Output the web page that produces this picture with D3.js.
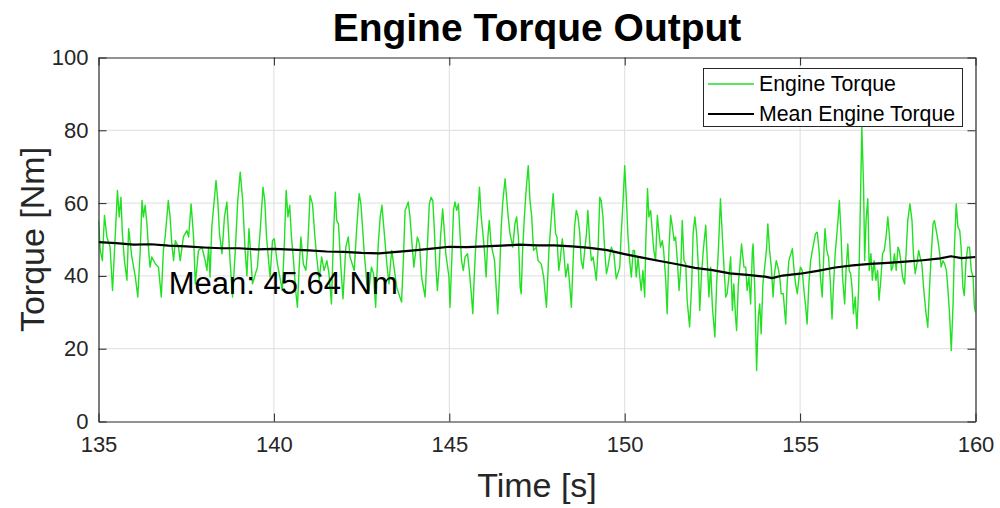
<!DOCTYPE html>
<html>
<head>
<meta charset="utf-8">
<script src="https://cdn.jsdelivr.net/npm/d3@7"></script>
<style>
  html, body { margin: 0; padding: 0; background: #ffffff; }
  svg { display: block; font-family: "Liberation Sans", Arial, Helvetica, sans-serif; }
</style>
</head>
<body>
<svg id="chart" width="1000" height="508"></svg>
<script>
// ---------- data ----------
const timeData = [
  135.00,135.05,135.11,135.17,135.24,135.33,135.40,135.48,135.54,135.59,135.64,135.68,135.74,135.81,135.86,135.95,
  136.05,136.12,136.19,136.24,136.28,136.33,136.38,136.43,136.47,136.52,136.62,136.71,136.79,136.85,136.90,136.99,
  137.04,137.09,137.14,137.19,137.28,137.33,137.42,137.52,137.57,137.64,137.71,137.76,137.85,137.95,
  138.04,138.09,138.14,138.18,138.23,138.35,138.40,138.45,138.52,138.59,138.66,138.75,138.82,138.90,138.97,
  139.04,139.11,139.18,139.23,139.29,139.39,139.53,139.61,139.69,139.74,139.79,139.89,139.96,
  140.01,140.10,140.24,140.29,140.35,140.40,140.45,140.50,140.56,140.62,140.67,140.72,140.77,140.84,140.91,140.96,
  141.03,141.10,141.17,141.22,141.29,141.36,141.43,141.51,141.57,141.64,141.70,141.75,141.79,141.84,141.91,141.97,
  142.05,142.12,142.17,142.29,142.35,142.43,142.48,142.52,142.57,142.65,142.71,142.78,142.84,142.90,142.97,
  143.03,143.08,143.14,143.22,143.28,143.33,143.36,143.50,143.64,143.69,143.74,143.83,143.88,143.93,143.99,
  144.09,144.15,144.21,144.31,144.37,144.43,144.48,144.53,144.57,144.62,144.66,144.71,144.75,144.81,144.85,144.90,144.99,
  145.02,145.07,145.12,145.16,145.21,145.26,145.31,145.35,145.40,145.45,145.52,145.57,145.62,145.67,145.71,145.76,145.81,145.86,145.91,145.95,
  146.00,146.05,146.10,146.14,146.19,146.29,146.33,146.38,146.43,146.48,146.52,146.59,146.64,146.68,146.73,146.81,146.87,146.92,146.97,
  147.02,147.05,147.09,147.14,147.19,147.25,147.30,147.35,147.40,147.48,147.53,147.62,147.69,147.77,147.84,147.91,147.96,
  148.00,148.03,148.07,148.12,148.16,148.22,148.26,148.32,148.38,148.43,148.48,148.53,148.57,148.62,148.67,148.72,148.76,148.81,148.86,148.91,148.95,
  149.00,149.05,149.10,149.14,149.19,149.24,149.29,149.33,149.38,149.43,149.48,149.52,149.57,149.62,149.69,149.76,149.86,149.90,149.95,
  150.00,150.05,150.09,150.14,150.19,150.24,150.28,150.33,150.38,150.43,150.47,150.52,150.57,150.60,150.65,150.69,150.74,150.79,150.83,150.88,150.93,150.98,
  151.02,151.07,151.11,151.17,151.21,151.26,151.31,151.36,151.41,151.45,151.50,151.55,151.60,151.64,151.69,151.74,151.78,151.85,151.91,151.95,
  152.00,152.05,152.10,152.14,152.19,152.24,152.31,152.35,152.40,152.45,152.50,152.57,152.62,152.67,152.73,152.78,152.83,152.88,152.92,152.97,
  153.02,153.07,153.11,153.16,153.19,153.24,153.28,153.33,153.40,153.45,153.49,153.54,153.59,153.64,153.66,153.71,153.76,153.81,153.85,153.89,153.94,
  154.04,154.08,154.13,154.18,154.23,154.27,154.32,154.37,154.42,154.46,154.52,154.59,154.63,154.68,154.78,154.82,154.87,154.92,154.97,
  155.01,155.06,155.11,155.16,155.20,155.25,155.30,155.35,155.44,155.49,155.54,155.58,155.63,155.68,155.71,155.76,155.81,155.86,155.91,155.95,
  156.00,156.08,156.12,156.17,156.21,156.27,156.31,156.36,156.40,156.44,156.48,156.52,156.57,156.62,156.67,156.71,156.76,156.81,156.84,156.88,156.93,156.97,
  157.02,157.06,157.11,157.16,157.21,157.25,157.30,157.35,157.40,157.45,157.50,157.55,157.60,157.64,157.69,157.74,157.79,157.83,157.88,157.92,157.98,
  158.02,158.07,158.13,158.19,158.23,158.28,158.33,158.38,158.42,158.47,158.52,158.59,158.64,158.69,158.74,158.79,158.83,158.88,158.93,158.98,
  159.02,159.07,159.12,159.17,159.21,159.26,159.31,159.36,159.40,159.45,159.50,159.55,159.59,159.64,159.68,159.73,159.78,159.83,159.88,159.93,159.97,160.00
];
const torqueData = [
  55.2,47,44.2,56.6,50.7,47.9,36,51.6,63.5,56.2,61.6,51.6,44.2,38.8,53,45.2,
  39.7,34.2,47,60.7,56.2,59.4,54.3,47,42.4,45.2,43.3,42.4,34.2,47,50.7,60.7,
  56.2,48.8,44.2,49.7,47.9,44.2,50.7,52.5,50.7,59.8,50.7,37.8,47,47.9,
  44.2,41.5,47.9,39.7,53.4,66.2,60.7,51.6,46.1,56.2,60.3,44.2,34.2,47,60.7,
  68.5,60.7,47,40,53,37.8,42.4,52.5,64.4,60.7,50.7,39.7,49.7,
  50.2,43.3,36,47,63.5,56.2,59.4,50.7,44.2,36,31.4,42.4,50.7,43.3,41.5,47,
  62.1,59.8,50.7,45.2,38.8,45.2,41.5,44.2,40.6,32.3,51.6,63,55.2,54.3,42.4,33.7,
  47.9,50.7,45.2,41.5,51.6,62.6,59.8,54.3,47,37.8,36,42.4,40.6,31.4,47.9,
  56.2,59.4,52.5,43.3,37.8,44.2,47,36.9,32.8,44.2,58,60.3,56.2,49.7,42.4,
  50.7,48.8,39.7,34.2,47,59.8,61.6,60.7,53.4,42.4,36,42.4,50.7,58.4,53.4,46.1,39.7,
  31.4,44.2,58,60.3,58,59.8,50.7,44.2,41.5,45.2,46.1,41.5,36,29.6,39.7,49.7,56.2,64.4,56.2,52.5,
  47,39.7,50.7,55.2,48.8,44.2,37.8,29.6,39.7,53.4,59.8,66.7,60.7,56.2,51.6,47.9,54.3,56.2,50.7,
  36.9,35.1,47,56.2,63.5,70.3,60.7,56.2,47,47.9,44.2,43.3,39.7,31.4,47,56.2,62.6,
  56.2,51.6,50.7,41.5,44.2,50.2,47,39.7,43.3,37.8,31.4,44.2,53.4,58,56.2,51.6,44.2,42,47,51.6,58,
  49.7,44.2,45.2,42.4,38.8,47,61.6,60.7,56.2,47,40.6,42.4,45.2,47.9,46.1,39.2,42.4,51.6,59.8,
  70.3,60.7,51.6,44.2,39.7,47,47,39.7,45.2,39.7,36,41.5,34.2,48.8,64,56.2,58,51.6,47,44.2,56.6,51.6,
  47.9,49.7,47,38.8,29.6,47,56.6,53.4,49.7,50.7,44.2,36,42.4,55.2,44.2,43.3,33.3,26,37.8,51.6,
  56.2,51.6,42.4,30.5,40.6,47,53.9,45.2,34.2,42.4,31.4,23.2,37.8,47,61.2,51.6,42.4,34.2,35.1,39.7,
  45.2,30.5,37.8,28.7,25,37.8,42.4,48.8,42.4,42.4,36,39.7,32.3,47,48.8,36,14,28.7,32.3,24.1,37.8,
  47,54.3,47,42.4,34.2,40.6,44.2,42.4,39.7,35.1,35.1,26.8,37.8,44.2,47.5,42.4,37.8,35.1,39.7,
  42.4,41.5,36,31.4,26.8,37.8,44.2,47,51.6,52,47,39.7,34.2,47,53,47,45.2,38.8,28.2,36.9,
  46.1,55.2,60.7,50.7,39.7,32.3,41.5,48.8,41.5,40.6,36.9,29.6,34.2,25.5,36.9,55.2,80.9,64.4,44.2,55.2,61.2,41.5,
  46.1,38.8,44.2,38.8,41.5,33.3,38.8,46.1,47,50.7,56.2,50.7,41.5,42.4,46.1,41.5,47.9,47,43.3,39.7,37.8,
  46.1,55.2,59.8,55.2,46.1,40.6,43.3,47,45.2,43.3,36.9,29.6,25.9,36.9,46.1,54.3,55.2,52.5,49.7,46.1,
  42.4,44.2,43.3,41.5,36.9,29.6,19.5,32.3,47.9,59.8,53.4,52.5,47.9,36.9,34.6,44.2,47.9,47.9,41.5,39.7,31.4,30
];
const meanTime = [
  135.0,135.5,136.0,136.5,137.0,137.5,138.0,138.5,139.0,139.5,140.0,140.5,141.0,141.5,142.0,142.5,143.0,143.5,
  144.0,144.5,145.0,145.5,146.0,146.5,147.0,147.5,148.0,148.5,149.0,149.5,150.0,150.5,151.0,151.5,152.0,152.5,
  153.0,153.5,154.0,154.2,154.5,155.0,155.5,156.0,156.5,157.0,157.5,158.0,158.5,159.0,159.3,159.6,160.0
];
const meanTorque = [
  49.3,49.0,48.6,48.7,48.3,48.1,47.8,47.6,47.6,47.3,47.4,47.2,47.0,46.7,46.6,46.3,46.2,46.6,
  47.0,47.5,48.0,47.9,48.1,48.3,48.6,48.4,48.4,48.1,47.7,47.1,46.0,45.0,44.1,43.2,42.2,41.6,
  40.7,40.3,39.8,39.4,40.1,40.6,41.4,42.3,42.9,43.3,43.6,43.9,44.3,44.8,45.4,44.9,45.2
];
const xTicks = [135, 140, 145, 150, 155, 160];
const yTicks = [0, 20, 40, 60, 80, 100];
const seriesNames = ["Engine Torque", "Mean Engine Torque"];
const titleText = "Engine Torque Output";
const xLabelText = "Time [s]";
const yLabelText = "Torque [Nm]";
const meanLabel = "Mean: 45.64 Nm";
const meanLabelPos = [137, 35];

// ---------- layout ----------
const svg = d3.select("#chart");
const L = 98.5, R = 975.5, T = 57.5, B = 421.5;
const x = d3.scaleLinear().domain([135, 160]).range([L, R]);
const y = d3.scaleLinear().domain([0, 100]).range([B, T]);
const axisColor = "#262626";
const gridColor = "#dedede";
const green = "#22e022";

// grid
const grid = svg.append("g");
grid.selectAll("line.gx").data(xTicks.slice(1, -1)).enter().append("line")
  .attr("x1", d => x(d)).attr("x2", d => x(d)).attr("y1", T).attr("y2", B)
  .attr("stroke", gridColor).attr("stroke-width", 1);
grid.selectAll("line.gy").data(yTicks.slice(1, -1)).enter().append("line")
  .attr("x1", L).attr("x2", R).attr("y1", d => y(d)).attr("y2", d => y(d))
  .attr("stroke", gridColor).attr("stroke-width", 1);

// clip
svg.append("clipPath").attr("id", "clip").append("rect")
  .attr("x", L).attr("y", T).attr("width", R - L).attr("height", B - T);

const pts = timeData.map((t, i) => [t, torqueData[i]]);
const mpts = meanTime.map((t, i) => [t, meanTorque[i]]);
const line = d3.line().x(d => x(d[0])).y(d => y(d[1]));

svg.append("path").datum(pts).attr("clip-path", "url(#clip)")
  .attr("d", line).attr("fill", "none").attr("stroke", green)
  .attr("stroke-width", 1.4).attr("stroke-linejoin", "round");
svg.append("path").datum(mpts).attr("clip-path", "url(#clip)")
  .attr("d", line).attr("fill", "none").attr("stroke", "#000000")
  .attr("stroke-width", 2.2).attr("stroke-linejoin", "round");

// axes (MATLAB style: inward ticks on all four sides)
const tickLen = 8;
const fmt = d3.format("d");
const axB = svg.append("g").attr("transform", `translate(0,${B})`)
  .call(d3.axisBottom(x).tickValues(xTicks).tickSizeInner(-tickLen).tickSizeOuter(0).tickPadding(15).tickFormat(fmt));
const axT = svg.append("g").attr("transform", `translate(0,${T})`)
  .call(d3.axisTop(x).tickValues(xTicks).tickSizeInner(-tickLen).tickSizeOuter(0).tickFormat(""));
const axL = svg.append("g").attr("transform", `translate(${L},0)`)
  .call(d3.axisLeft(y).tickValues(yTicks).tickSizeInner(-tickLen).tickSizeOuter(0).tickPadding(10).tickFormat(fmt));
const axR = svg.append("g").attr("transform", `translate(${R},0)`)
  .call(d3.axisRight(y).tickValues(yTicks).tickSizeInner(-tickLen).tickSizeOuter(0).tickFormat(""));
[axB, axT, axL, axR].forEach(a => {
  a.selectAll("path.domain").attr("stroke", axisColor).attr("stroke-width", 1.2);
  a.selectAll(".tick line").attr("stroke", axisColor).attr("stroke-width", 1);
  a.selectAll(".tick text").attr("fill", axisColor).style("font-size", "22px")
    .style("font-family", '"Liberation Sans", Arial, Helvetica, sans-serif');
});
axB.selectAll(".tick text").attr("dy", "0.71em");

// mean annotation
svg.append("text").attr("x", x(meanLabelPos[0])).attr("y", y(meanLabelPos[1]))
  .attr("fill", "#000").style("font-size", "31px").text(meanLabel);

// title and labels
svg.append("text").attr("x", (L + R) / 2).attr("y", 41).attr("text-anchor", "middle")
  .attr("fill", "#000").style("font-size", "39px").style("font-weight", "bold").text(titleText);
svg.append("text").attr("x", (L + R) / 2).attr("y", 497).attr("text-anchor", "middle")
  .attr("fill", axisColor).style("font-size", "34px").text(xLabelText);
svg.append("text").attr("transform", `translate(44,${(T + B) / 2}) rotate(-90)`)
  .attr("text-anchor", "middle").attr("fill", axisColor).style("font-size", "34px").text(yLabelText);

// legend
const lg = svg.append("g");
lg.append("rect").attr("x", 703.5).attr("y", 68.5).attr("width", 259).attr("height", 58)
  .attr("fill", "#fff").attr("stroke", axisColor).attr("stroke-width", 1);
const legColors = [green, "#000000"];
const legWidths = [1.4, 2.2];
seriesNames.forEach((n, i) => {
  const cy = 84 + i * 30;
  lg.append("line").attr("x1", 708).attr("x2", 754).attr("y1", cy).attr("y2", cy)
    .attr("stroke", legColors[i]).attr("stroke-width", legWidths[i]);
  lg.append("text").attr("x", 759).attr("y", cy).attr("dy", "0.35em")
    .attr("fill", "#000").style("font-size", "21.3px").text(n);
});
</script>
</body>
</html>
